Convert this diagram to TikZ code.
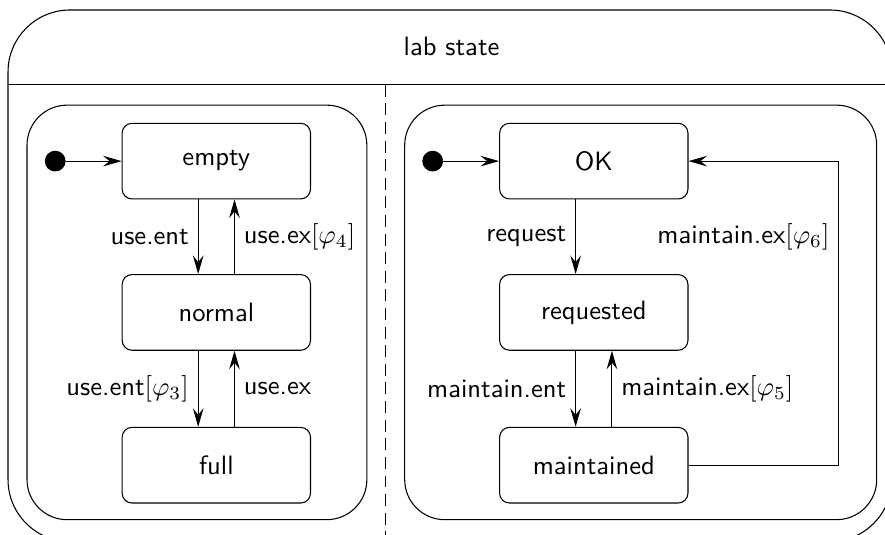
\documentclass[tikz,border=0pt]{standalone}
\usepackage{amssymb}
\usepackage{tikz}
\usetikzlibrary{calc,arrows.meta}

\begin{document}
\begin{tikzpicture}[font=\sffamily, >={Stealth[length=7pt,width=4pt,inset=2.5pt]},
        statebox/.style={draw, rounded corners=0.13cm, minimum width=2.49cm, minimum height=1cm},
        initdot/.style={draw, circle, fill=black, inner sep=0pt, minimum size=0.26cm}]
        \useasboundingbox (0,0) rectangle (11.70,-7.07);

        % outer state and its two regions
        \draw[rounded corners=0.82cm] (0.106,-0.132) rectangle (11.79,-7.16);
        \draw (0.106,-1.12) -- (11.79,-1.12);
        \node (lab) at (5.97,-0.62) {lab state};
        \draw[dash pattern=on 4.5pt off 2.5pt] (5.10,-1.12) -- (5.10,-7.16);
        \draw[rounded corners=0.53cm] (0.357,-1.39) rectangle (4.85,-6.87);
        \draw[rounded corners=0.53cm] (5.35,-1.39) rectangle (11.59,-6.87);

        % left region
        \node[initdot] (I1) at (0.73,-2.13) {};
        \node[statebox] (empty) at (2.86,-2.13) {empty};
        \node[statebox] (normal) at (2.86,-4.13) {normal};
        \node[statebox] (full) at (2.86,-6.15) {full};

        \draw[->] (I1) -- (empty);
        \draw[->] ([xshift=-0.24cm]empty.south) -- ([xshift=-0.24cm]normal.north) node[midway, left] {use.ent};
        \draw[->] ([xshift=0.24cm]normal.north) -- ([xshift=0.24cm]empty.south) node[midway, right] {use.ex$[\varphi_4]$};
        \draw[->] ([xshift=-0.24cm]normal.south) -- ([xshift=-0.24cm]full.north) node[midway, left] {use.ent$[\varphi_3]$};
        \draw[->] ([xshift=0.24cm]full.north) -- ([xshift=0.24cm]normal.south) node[midway, right] {use.ex};

        % right region
        \node[initdot] (I2) at (5.72,-2.13) {};
        \node[statebox] (OK) at (7.85,-2.13) {OK};
        \node[statebox] (requested) at (7.85,-4.13) {requested};
        \node[statebox] (maintained) at (7.85,-6.15) {maintained};
        \coordinate (back) at (11.09,-2.13);

        \draw[->] (I2) -- (OK);
        \draw[->] ([xshift=-0.24cm]OK.south) -- ([xshift=-0.24cm]requested.north) node[midway, left] {request};
        \draw[->] ([xshift=-0.24cm]requested.south) -- ([xshift=-0.24cm]maintained.north) node[midway, left] {maintain.ent};
        \draw[->] ([xshift=0.24cm]maintained.north) -- ([xshift=0.24cm]requested.south) node[midway, right] {maintain.ex$[\varphi_5]$};
        \draw[->] (maintained.east) -| (back) node[pos=0.875, left] {maintain.ex$[\varphi_6]$} -- (OK.east);
    \end{tikzpicture}
\end{document}
